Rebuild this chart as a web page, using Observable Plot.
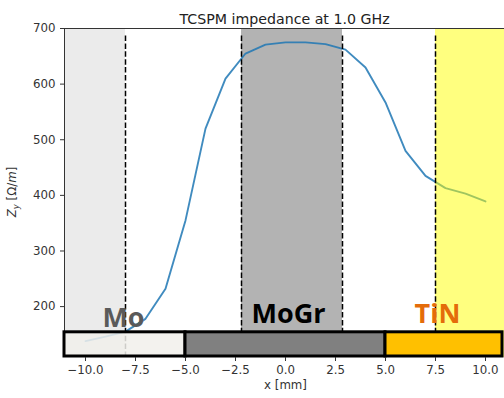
<!DOCTYPE html>
<html><head><meta charset="utf-8">
<script src="https://cdn.jsdelivr.net/npm/d3@7"></script>
<script src="https://cdn.jsdelivr.net/npm/@observablehq/plot@0.6"></script>
<style>body{margin:0;background:#fff} svg{display:block}</style>
</head><body><div id="chart"></div>
<script>
const xPos = [-10,-9,-8,-7,-6,-5,-4,-3,-2,-1,0,1,2,3,4,5,6,7,8,9,10];
const zy = [138,146,155,178,232,355,520,610,655,671,675,675,672,662,630,567,480,435,413,403,389];
const spanStart = [-11.05, -2.2];
const spanEnd = [-8, 2.85];
const spanColor = ["#ebebeb", "#b3b3b3"];
const tinSpan = [{x1: 7.5, x2: 10.95}];
const boundaries = [-8, -2.2, 2.85, 7.5];
const materials = ["Mo", "MoGr", "TiN"];
const barStart = [-11.05, -5, 5];
const barEnd = [-5, 5, 10.85];
const barColor = ["#f1f0eb", "#808080", "#ffc000"];
const labelX = [-8.1, 0.15, 7.6];
const labelY = [164, 170, 170];
const labelColor = ["#5a5a5a", "#000000", "#e46c0a"];
const xTicks = [-10, -7.5, -5, -2.5, 0, 2.5, 5, 7.5, 10];
const yTicks = [200, 300, 400, 500, 600, 700];

const lineData = xPos.map((x, i) => ({x, z: zy[i]}));
const spans = spanStart.map((s, i) => ({x1: s, x2: spanEnd[i], fill: spanColor[i]}));
const bars = materials.map((m, i) => ({x1: barStart[i], x2: barEnd[i], fill: barColor[i]}));
const labels = materials.map((m, i) => ({m, x: labelX[i], y: labelY[i], c: labelColor[i]}));

const chart = Plot.plot({
  width: 504, height: 398,
  marginLeft: 64, marginRight: 0, marginTop: 28, marginBottom: 41,
  x: {domain: [-11.05, 10.95]},
  y: {domain: [108.5, 700]},
  color: {type: "identity"},
  style: {fontFamily: "DejaVu Sans", fontSize: "11.8px", color: "#333", background: "#fff"},
  marks: [
    Plot.rect(spans, {x1: "x1", x2: "x2", fill: "fill"}),
    Plot.line(lineData, {x: "x", y: "z", stroke: "#1f77b4", strokeOpacity: 0.85, strokeWidth: 1.9}),
    Plot.rect(tinSpan, {x1: "x1", x2: "x2", fill: "#ffff00", fillOpacity: 0.5}),
    Plot.ruleX(boundaries, {y1: 108.5, y2: 690, stroke: "black", strokeWidth: 1.5, strokeDasharray: "5.5,2.4"}),
    Plot.ruleY([700], {stroke: "#333", strokeWidth: 1}),
    Plot.ruleX([-11.05], {stroke: "#333", strokeWidth: 1}),
    Plot.rect(bars.slice(0, 1), {x1: "x1", x2: "x2", y1: 110.3, y2: 153.8, fill: "fill", fillOpacity: 0.85, stroke: "black", strokeWidth: 3}),
    Plot.rect(bars.slice(1), {x1: "x1", x2: "x2", y1: 110.3, y2: 153.8, fill: "fill", stroke: "black", strokeWidth: 3}),
    Plot.axisY(yTicks, {tickSize: 4, tickPadding: 5, label: null, fill: "#333"}),
    Plot.axisX(xTicks, {tickSize: 4, tickPadding: 4, tickFormat: d3.format(".1f"), label: null, fill: "#333"}),
    Plot.text(["TCSPM impedance at 1.0 GHz"], {frameAnchor: "top", dy: -15, text: d => d, fontSize: 14.2, fill: "#222"}),
    Plot.text(["x [mm]"], {frameAnchor: "bottom", dy: 31, dx: 1, text: d => d, fontSize: 11.8, fill: "#333"}),
    Plot.text(labels, {x: "x", y: "y", text: "m", fill: "c", fontSize: 27, fontWeight: "bold", fontFamily: "Open Sans", lineAnchor: "bottom"})
  ]
});
document.getElementById("chart").appendChild(chart);

const svg = d3.select(chart);
const yl = svg.append("text")
  .attr("transform", "translate(16,192) rotate(-90)")
  .attr("text-anchor", "middle")
  .attr("font-family", "DejaVu Sans")
  .attr("font-size", 11.8)
  .attr("fill", "#333");
yl.append("tspan").attr("font-style", "italic").text("Z");
yl.append("tspan").attr("font-style", "italic").attr("font-size", 8.5).attr("dy", 3).text("y");
yl.append("tspan").attr("dy", -3).text(" [Ω/");
yl.append("tspan").attr("font-style", "italic").text("m");
yl.append("tspan").text("]");
</script></body></html>
